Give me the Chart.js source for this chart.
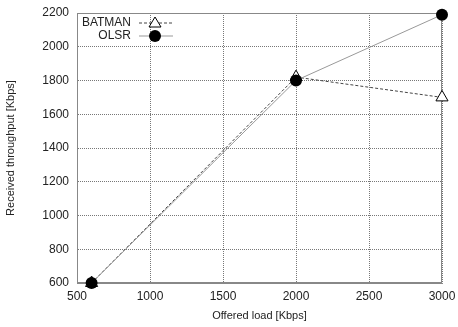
<!DOCTYPE html>
<html lang="en">
<head>
  <meta charset="UTF-8">
  <title>Throughput vs offered load</title>
  <script src="https://cdn.jsdelivr.net/npm/chart.js@4.4.0/dist/chart.umd.min.js"></script>
  <style>
    html, body { margin: 0; padding: 0; background: #fff; }
    #wrap { width: 458px; height: 327px; }
  </style>
</head>
<body>
  <div id="wrap"><canvas id="c"></canvas></div>
  <script>
    // values
    const offeredLoad = [600, 2000, 3000];
    const batman = [600, 1820, 1700];
    const olsr = [600, 1800, 2190];
    const seriesNames = ['BATMAN', 'OLSR'];

    const font = "'Liberation Sans', Arial, sans-serif";

    // legend drawn inside the plot, top-left, text right-aligned before the sample
    const innerLegend = {
      id: 'innerLegend',
      afterDraw(chart) {
        const ctx = chart.ctx;
        const a = chart.chartArea;
        ctx.save();
        ctx.font = '12px ' + font;
        ctx.textAlign = 'right';
        ctx.textBaseline = 'middle';
        chart.data.datasets.forEach((ds, i) => {
          const y = a.top + 10 + i * 13;
          const tx = a.left + 54;
          ctx.fillStyle = '#222';
          ctx.fillText(ds.label, tx, y);
          ctx.strokeStyle = ds.borderColor;
          ctx.lineWidth = 1;
          ctx.setLineDash(ds.borderDash || []);
          ctx.beginPath();
          ctx.moveTo(tx + 8, y);
          ctx.lineTo(tx + 42, y);
          ctx.stroke();
          ctx.setLineDash([]);
          const mx = tx + 24;
          ctx.strokeStyle = '#000';
          if (ds.pointStyle === 'triangle') {
            ctx.fillStyle = '#fff';
            ctx.beginPath();
            ctx.moveTo(mx, y - 6);
            ctx.lineTo(mx + 6, y + 4);
            ctx.lineTo(mx - 6, y + 4);
            ctx.closePath();
            ctx.fill();
            ctx.stroke();
          } else {
            ctx.fillStyle = '#000';
            ctx.beginPath();
            ctx.arc(mx, y, 6, 0, Math.PI * 2);
            ctx.fill();
          }
        });
        ctx.restore();
      }
    };

    // solid plot frame under the data
    const frame = {
      id: 'frame',
      beforeDatasetsDraw(chart) {
        const a = chart.chartArea, ctx = chart.ctx;
        ctx.save();
        ctx.strokeStyle = '#888';
        ctx.lineWidth = 1;
        ctx.strokeRect(a.left + 0.5, a.top + 0.5, a.right - a.left - 1, a.bottom - a.top - 1);
        ctx.restore();
      }
    };

    new Chart(document.getElementById('c'), {
      type: 'line',
      data: {
        datasets: [
          {
            label: seriesNames[0],
            data: offeredLoad.map((x, i) => ({ x, y: batman[i] })),
            borderColor: '#444',
            borderWidth: 1,
            borderDash: [3, 2],
            pointStyle: 'triangle',
            pointRadius: 7,
            pointBackgroundColor: '#fff',
            pointBorderColor: '#000',
            pointBorderWidth: 1,
            tension: 0,
            clip: false,
            order: 1
          },
          {
            label: seriesNames[1],
            data: offeredLoad.map((x, i) => ({ x, y: olsr[i] })),
            borderColor: '#999',
            borderWidth: 1,
            pointStyle: 'circle',
            pointRadius: 6,
            pointBackgroundColor: '#000',
            pointBorderColor: '#000',
            pointBorderWidth: 0,
            tension: 0,
            clip: false,
            order: 0
          }
        ]
      },
      options: {
        responsive: true,
        maintainAspectRatio: false,
        animation: false,
        layout: { autoPadding: false, padding: { top: 13, right: 16, left: 0, bottom: 0 } },
        plugins: { legend: { display: false }, tooltip: { enabled: false } },
        scales: {
          x: {
            type: 'linear',
            min: 500, max: 3000,
            ticks: { stepSize: 500, color: '#222', font: { family: font, size: 12 }, padding: 6, maxRotation: 0,
                     callback: v => String(v) },
            grid: { color: '#777', lineWidth: 1, drawTicks: false },
            border: { color: '#888', dash: [1, 1] },
            title: { display: true, text: 'Offered load [Kbps]', color: '#222', font: { family: font, size: 11 }, padding: { top: 5 } },
            afterFit(s) { s.height = 44; s.paddingLeft = 0; s.paddingRight = 0; }
          },
          y: {
            min: 600, max: 2200,
            ticks: { stepSize: 200, color: '#222', font: { family: font, size: 12 }, padding: 8,
                     callback: v => String(v) },
            grid: { color: '#777', lineWidth: 1, drawTicks: false },
            border: { color: '#888', dash: [1, 1] },
            title: { display: true, text: 'Received throughput [Kbps]', color: '#222', font: { family: font, size: 11 }, padding: { bottom: 4 } },
            afterFit(s) { s.width = 77; s.paddingTop = 0; s.paddingBottom = 0; }
          }
        }
      },
      plugins: [frame, innerLegend]
    });
  </script>
</body>
</html>
